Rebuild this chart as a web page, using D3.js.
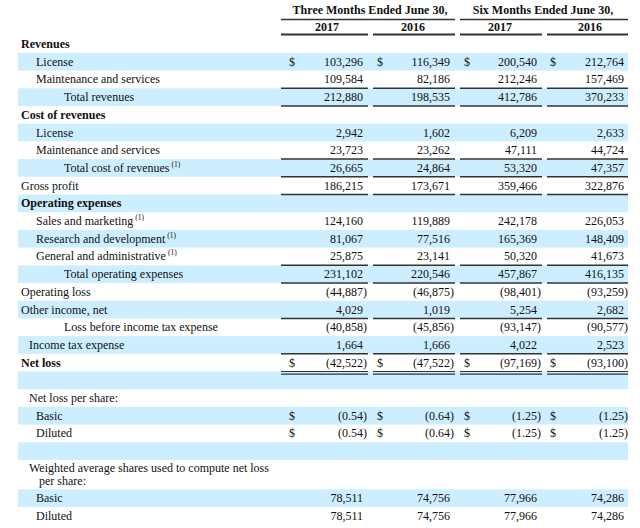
<!DOCTYPE html>
<html><head><meta charset="utf-8">
<script src="https://cdn.jsdelivr.net/npm/d3@7"></script>
<style>body{margin:0;background:#fff}svg{display:block}</style>
</head><body>
<svg id="c" width="640" height="528"></svg>
<script>
// ---- data ----
const periodHeaders = ["Three Months Ended June 30,", "Six Months Ended June 30,"];
const yearHeaders = ["2017", "2016", "2017", "2016"];
const rowLabels = [
  "Revenues", "License", "Maintenance and services", "Total revenues",
  "Cost of revenues", "License", "Maintenance and services", "Total cost of revenues",
  "Gross profit", "Operating expenses", "Sales and marketing", "Research and development",
  "General and administrative", "Total operating expenses", "Operating loss", "Other income, net",
  "Loss before income tax expense", "Income tax expense", "Net loss", "",
  "Net loss per share:", "Basic", "Diluted", "",
  "Weighted average shares used to compute net loss|per share:", "Basic", "Diluted"
];
const threeMonths2017 = [null,103296,109584,212880,null,2942,23723,26665,186215,null,124160,81067,25875,231102,-44887,4029,-40858,1664,-42522,null,null,-0.54,-0.54,null,null,78511,78511];
const threeMonths2016 = [null,116349,82186,198535,null,1602,23262,24864,173671,null,119889,77516,23141,220546,-46875,1019,-45856,1666,-47522,null,null,-0.64,-0.64,null,null,74756,74756];
const sixMonths2017   = [null,200540,212246,412786,null,6209,47111,53320,359466,null,242178,165369,50320,457867,-98401,5254,-93147,4022,-97169,null,null,-1.25,-1.25,null,null,77966,77966];
const sixMonths2016   = [null,212764,157469,370233,null,2633,44724,47357,322876,null,226053,148409,41673,416135,-93259,2682,-90577,2523,-93100,null,null,-1.25,-1.25,null,null,74286,74286];
const boldRows = [0,4,9,18];
const footnoteRows = [7,10,11,12];
const dollarRows = [1,18,21,22];
const perShareRows = [21,22];
const singleRuleRows = [2,3,6,7,8,12,13,15,17];
const doubleRuleRows = [18];
// indent levels: 0 = 21px, 1 = 36px, 2 = 64px, 3 = 29px
const indentLevel = [0,1,1,2,0,1,1,2,0,0,1,1,1,2,0,0,2,3,0,0,3,1,1,0,3,1,1];

// ---- layout ----
const svg = d3.select("#c");
const font = "'Liberation Serif','Times New Roman',serif";
const tableLeft = 18, tableRight = 628;
const top0 = 35.2, rowH = 17.7;
const rowHeights = rowLabels.map((d,i) => i === 24 ? 29.3 : rowH);
const rowTops = []; let acc = top0;
rowHeights.forEach(h => { rowTops.push(acc); acc += h; });
const y = i => rowTops[i];

const cols = [0,1,2,3];
const colRight = d3.scaleOrdinal().domain(cols).range([363, 450, 537, 624]);
const colDollar = d3.scaleOrdinal().domain(cols).range([289, 377, 464, 550]);
const colSeg = d3.scaleOrdinal().domain(cols).range([[281,368],[373,455],[460,542],[547,628]]);
const indentX = d3.scaleOrdinal().domain([0,1,2,3]).range([21, 36, 64, 29]);
const series = [threeMonths2017, threeMonths2016, sixMonths2017, sixMonths2016];
const ink = "#111";

// shading
svg.append("g").selectAll("rect").data(rowLabels.map((d,i)=>i).filter(i => i % 2 === 1))
  .join("rect").attr("x", tableLeft).attr("y", i => y(i)).attr("width", tableRight - tableLeft)
  .attr("height", i => rowHeights[i]).attr("fill", "#cceeff");

// headers
const hdr = svg.append("g").attr("font-family", font).attr("font-size", 12).attr("font-weight", "bold").attr("fill", ink);
hdr.selectAll("text.p").data(periodHeaders).join("text").attr("class","p")
  .attr("x", (d,i) => i === 0 ? 370 : 543).attr("y", 14).attr("text-anchor","middle").text(d => d);
hdr.selectAll("text.y").data(yearHeaders).join("text").attr("class","y")
  .attr("x", (d,i) => [327,413,500,590][i]).attr("y", 31).attr("text-anchor","middle").text(d => d);
svg.append("g").selectAll("line").data([[281,455],[460,628]]).join("line")
  .attr("x1", d => d[0]).attr("x2", d => d[1]).attr("y1", 19.5).attr("y2", 19.5)
  .attr("stroke", "#333").attr("stroke-width", 1.3);
svg.append("g").selectAll("line").data(cols).join("line")
  .attr("x1", c => colSeg(c)[0]).attr("x2", c => colSeg(c)[1]).attr("y1", 34.5).attr("y2", 34.5)
  .attr("stroke", "#333").attr("stroke-width", 1.8);

// row labels
const lab = svg.append("g").attr("font-family", font).attr("font-size", 12).attr("fill", ink);
rowLabels.forEach((label, i) => {
  if (!label) return;
  const parts = label.split("|");
  if (parts.length > 1) {
    lab.append("text").attr("x", indentX(indentLevel[i])).attr("y", y(i) + 11.5).text(parts[0]);
    lab.append("text").attr("x", indentX(indentLevel[i]) + 10).attr("y", y(i) + 25.3).text(parts[1]);
    return;
  }
  const t = lab.append("text").attr("x", indentX(indentLevel[i]))
    .attr("y", y(i) + rowHeights[i]/2 + 4)
    .attr("font-weight", boldRows.includes(i) ? "bold" : null);
  t.append("tspan").text(parts[0]);
  if (footnoteRows.includes(i)) {
    t.append("tspan").attr("font-size", 7.5).attr("dy", -5).attr("dx", 2).text("(1)");
  }
});

// values
const fmtInt = d3.format(",");
const fmtDec = d3.format(".2f");
const val = svg.append("g").attr("font-family", font).attr("font-size", 12).attr("fill", ink);
cols.forEach(c => {
  series[c].forEach((v, i) => {
    if (v === null) return;
    const s = perShareRows.includes(i) ? fmtDec(Math.abs(v)) : fmtInt(Math.abs(v));
    const yy = y(i) + rowHeights[i]/2 + 4;
    if (v < 0) {
      val.append("text").attr("x", colRight(c)).attr("y", yy).attr("text-anchor","end").text("(" + s);
      val.append("text").attr("x", colRight(c)).attr("y", yy).text(")");
    } else {
      val.append("text").attr("x", colRight(c)).attr("y", yy).attr("text-anchor","end").text(s);
    }
    if (dollarRows.includes(i)) {
      val.append("text").attr("x", colDollar(c)).attr("y", yy).text("$");
    }
  });
});

// rules
const rules = svg.append("g").attr("stroke", "#333");
singleRuleRows.forEach(i => {
  rules.selectAll(null).data(cols).join("line")
    .attr("x1", c => colSeg(c)[0]).attr("x2", c => colSeg(c)[1])
    .attr("y1", y(i) + rowHeights[i]).attr("y2", y(i) + rowHeights[i]).attr("stroke-width", 1.5);
});
doubleRuleRows.forEach(i => {
  [0, 2.6].forEach(off => {
    rules.selectAll(null).data(cols).join("line")
      .attr("x1", c => colSeg(c)[0]).attr("x2", c => colSeg(c)[1])
      .attr("y1", y(i) + rowHeights[i] + off).attr("y2", y(i) + rowHeights[i] + off).attr("stroke-width", 1.2);
  });
});
</script>
</body></html>
